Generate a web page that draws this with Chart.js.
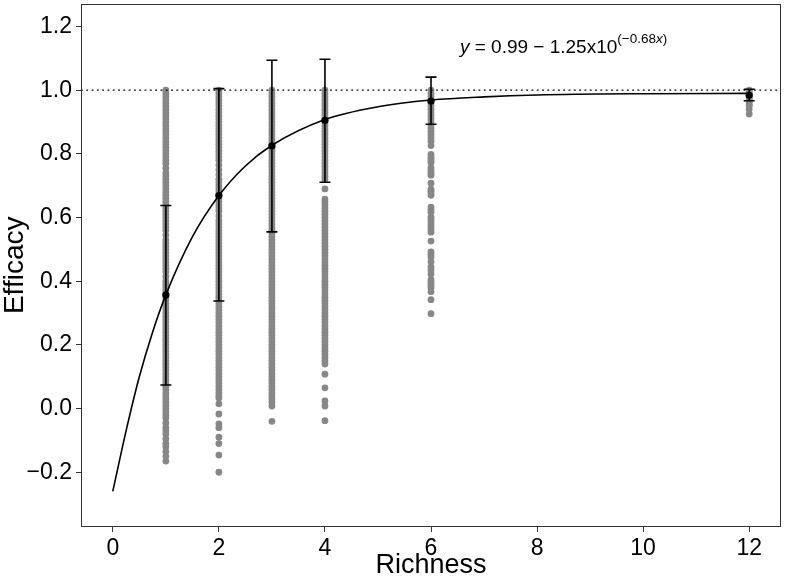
<!DOCTYPE html>
<html>
<head>
<meta charset="utf-8">
<script src="https://cdn.jsdelivr.net/npm/chart.js@4"></script>
<style>
html,body{margin:0;padding:0;background:#fff;}
#wrap{width:785px;height:579px;}
</style>
</head>
<body>
<div id="wrap"><canvas id="c" width="785" height="579"></canvas></div>
<script>
// ---- data ----
const richness = [1, 2, 3, 4, 6, 12];
const g1 = [1.00,0.99,0.98,0.97,0.96,0.95,0.94,0.93,0.92,0.91,0.90,0.89,0.88,0.87,0.86,0.85,0.84,0.83,0.82,0.81,0.80,0.79,0.78,0.77,0.755,0.74,0.73,0.72,0.71,0.70,0.69,0.68,0.67,0.66,0.65,0.64,0.63,0.62,0.61,0.60,0.59,0.58,0.57,0.56,0.545,0.53,0.52,0.51,0.50,0.49,0.48,0.47,0.46,0.45,0.44,0.43,0.415,0.40,0.39,0.38,0.37,0.36,0.35,0.34,0.33,0.32,0.31,0.30,0.29,0.28,0.27,0.26,0.25,0.24,0.23,0.22,0.21,0.20,0.19,0.18,0.17,0.16,0.15,0.14,0.13,0.12,0.11,0.10,0.09,0.08,0.07,0.06,0.05,0.04,0.03,0.02,0.01,0.00,-0.01,-0.02,-0.03,-0.045,-0.06,-0.07,-0.08,-0.095,-0.11,-0.12,-0.135,-0.15,-0.165];
const g2 = [1.00,0.99,0.98,0.97,0.96,0.95,0.94,0.93,0.92,0.91,0.90,0.89,0.88,0.87,0.86,0.85,0.84,0.83,0.82,0.81,0.80,0.79,0.78,0.765,0.75,0.735,0.72,0.71,0.70,0.69,0.68,0.67,0.66,0.65,0.64,0.63,0.62,0.605,0.59,0.58,0.57,0.56,0.55,0.54,0.53,0.52,0.51,0.50,0.49,0.48,0.47,0.46,0.45,0.44,0.43,0.42,0.41,0.40,0.39,0.38,0.37,0.36,0.35,0.34,0.33,0.32,0.31,0.30,0.29,0.28,0.27,0.26,0.25,0.24,0.23,0.22,0.21,0.20,0.19,0.18,0.17,0.16,0.15,0.14,0.13,0.12,0.11,0.10,0.09,0.08,0.07,0.06,0.05,0.04,0.033,0.015,-0.017,-0.048,-0.06,-0.09,-0.11,-0.146,-0.20];
const g3 = [1.00,0.99,0.98,0.97,0.96,0.95,0.94,0.93,0.92,0.91,0.90,0.89,0.88,0.87,0.86,0.85,0.84,0.83,0.82,0.81,0.80,0.79,0.78,0.77,0.76,0.75,0.74,0.73,0.72,0.71,0.70,0.69,0.68,0.67,0.66,0.65,0.64,0.63,0.62,0.61,0.60,0.59,0.58,0.57,0.56,0.55,0.54,0.53,0.52,0.51,0.50,0.49,0.48,0.47,0.46,0.45,0.44,0.43,0.42,0.41,0.40,0.39,0.38,0.37,0.36,0.35,0.34,0.33,0.32,0.31,0.30,0.29,0.28,0.27,0.26,0.25,0.24,0.23,0.22,0.21,0.20,0.19,0.18,0.17,0.16,0.15,0.14,0.13,0.12,0.11,0.10,0.09,0.08,0.07,0.06,0.05,0.04,0.03,0.02,0.008,-0.04];
const g4 = [1.00,0.99,0.98,0.97,0.96,0.95,0.94,0.93,0.92,0.91,0.90,0.89,0.88,0.87,0.86,0.85,0.84,0.83,0.82,0.81,0.80,0.79,0.78,0.77,0.76,0.75,0.74,0.73,0.72,0.69,0.658,0.65,0.64,0.63,0.62,0.61,0.60,0.59,0.58,0.57,0.56,0.55,0.54,0.53,0.52,0.51,0.50,0.49,0.48,0.47,0.46,0.45,0.44,0.43,0.42,0.41,0.40,0.39,0.38,0.37,0.36,0.35,0.34,0.33,0.32,0.31,0.30,0.29,0.28,0.27,0.26,0.25,0.24,0.23,0.22,0.21,0.20,0.19,0.18,0.17,0.16,0.15,0.14,0.108,0.065,0.024,0.008,-0.038];
const g6 = [1.00,0.99,0.98,0.97,0.96,0.95,0.94,0.93,0.92,0.91,0.90,0.89,0.88,0.87,0.86,0.85,0.84,0.826,0.798,0.79,0.785,0.778,0.773,0.757,0.75,0.745,0.738,0.733,0.708,0.689,0.684,0.679,0.67,0.633,0.625,0.617,0.601,0.594,0.586,0.578,0.570,0.562,0.554,0.526,0.492,0.484,0.476,0.461,0.445,0.434,0.423,0.405,0.398,0.392,0.385,0.379,0.367,0.342,0.298];
const g12 = [1.00,0.995,0.99,0.985,0.98,0.975,0.97,0.965,0.96,0.955,0.95,0.94,0.925];
const groups = [g1, g2, g3, g4, g6, g12];

const meanEff = [0.357, 0.669, 0.825, 0.905, 0.966, 0.984];
const errLow  = [0.074, 0.338, 0.555, 0.711, 0.893, 0.967];
const errHigh = [0.638, 1.005, 1.094, 1.097, 1.041, 1.003];

// fitted curve, values
const curveX = [0, 0.25, 0.5, 0.75, 1, 1.5, 2, 2.5, 3, 4, 5, 6, 7, 8, 10, 12];
const curveY = [-0.26, -0.07, 0.10, 0.24, 0.357, 0.539, 0.669, 0.762, 0.827, 0.908, 0.948, 0.969, 0.979, 0.985, 0.989, 0.990];

const refX = [-0.6, 12.6];
const refY = [1.0, 1.0];

const xTicks = [0, 2, 4, 6, 8, 10, 12];
const yTicks = [-0.2, 0.0, 0.2, 0.4, 0.6, 0.8, 1.0, 1.2];
const xRange = [-0.6, 12.6];
const yRange = [-0.372, 1.272];

const annX = 8.5, annY = 1.116;

// ---- build datasets ----
const grayPts = [];
groups.forEach((g, i) => g.forEach(v => grayPts.push({x: richness[i], y: v})));
const meanPts = richness.map((r, i) => ({x: r, y: meanEff[i]}));
const curvePts = curveX.map((x, i) => ({x: x, y: curveY[i]}));
const refPts = refX.map((x, i) => ({x: x, y: refY[i]}));

const FONT = "'Liberation Sans', Arial, Helvetica, sans-serif";

const errorBars = {
  id: 'errorBars',
  afterDatasetsDraw(chart) {
    const {ctx, scales: {x, y}} = chart;
    ctx.save();
    ctx.strokeStyle = '#000';
    ctx.lineWidth = 1.6;
    richness.forEach((r, i) => {
      const px = x.getPixelForValue(r);
      const y1 = y.getPixelForValue(errLow[i]);
      const y2 = y.getPixelForValue(errHigh[i]);
      ctx.beginPath();
      ctx.moveTo(px, y1); ctx.lineTo(px, y2);
      ctx.moveTo(px - 5.5, y1); ctx.lineTo(px + 5.5, y1);
      ctx.moveTo(px - 5.5, y2); ctx.lineTo(px + 5.5, y2);
      ctx.stroke();
    });
    ctx.restore();
  }
};

const frame = {
  id: 'frame',
  afterDraw(chart) {
    const {ctx, chartArea: a, scales: {x, y}} = chart;
    ctx.save();
    ctx.strokeStyle = '#333';
    ctx.lineWidth = 1;
    ctx.strokeRect(Math.round(a.left) + 0.5, Math.round(a.top) + 0.5, Math.round(a.right - a.left) - 1, Math.round(a.bottom - a.top) - 1);
    // annotation
    const cx = x.getPixelForValue(annX);
    const by = y.getPixelForValue(annY);
    const big = 19, small = 13.5;
    const segs = [
      {t: 'y', f: 'italic ' + big + 'px ' + FONT, dy: 0},
      {t: ' = 0.99 \u2212 1.25x10', f: big + 'px ' + FONT, dy: 0},
      {t: '(\u22120.68', f: small + 'px ' + FONT, dy: -10},
      {t: 'x', f: 'italic ' + small + 'px ' + FONT, dy: -10},
      {t: ')', f: small + 'px ' + FONT, dy: -10}
    ];
    let total = 0;
    segs.forEach(s => { ctx.font = s.f; s.w = ctx.measureText(s.t).width; total += s.w; });
    let px = cx - total / 2;
    ctx.fillStyle = '#000';
    ctx.textBaseline = 'alphabetic';
    ctx.textAlign = 'left';
    segs.forEach(s => { ctx.font = s.f; ctx.fillText(s.t, px, by + s.dy); px += s.w; });
    ctx.restore();
  }
};

new Chart(document.getElementById('c'), {
  type: 'scatter',
  data: {
    datasets: [
      {label: 'mean', data: meanPts, showLine: false, pointRadius: 3.6, pointBackgroundColor: '#000', pointBorderWidth: 0, pointHoverRadius: 3.6},
      {label: 'fit', data: curvePts, showLine: true, borderColor: '#000', borderWidth: 1.6, pointRadius: 0, pointHoverRadius: 0, cubicInterpolationMode: 'monotone', fill: false},
      {label: 'ref', data: refPts, showLine: true, borderColor: '#000', borderWidth: 1.3, borderDash: [1.8, 3.5], pointRadius: 0, pointHoverRadius: 0, fill: false},
      {label: 'obs', data: grayPts, showLine: false, pointRadius: 3.4, pointBackgroundColor: '#878787', pointBorderWidth: 0, pointHoverRadius: 3.4}
    ]
  },
  options: {
    responsive: false,
    animation: false,
    events: [],
    layout: {padding: {top: 1, right: 4, left: 0, bottom: 0}},
    plugins: {legend: {display: false}, tooltip: {enabled: false}},
    scales: {
      x: {
        type: 'linear', min: xRange[0], max: xRange[1],
        afterBuildTicks: s => { s.ticks = xTicks.map(v => ({value: v})); },
        afterFit: s => { s.height = 52; s.paddingLeft = 0; s.paddingRight = 0; },
        grid: {display: true, drawOnChartArea: false, drawTicks: true, tickLength: 5, color: '#333', lineWidth: 1},
        border: {display: false},
        ticks: {color: '#000', font: {family: FONT, size: 23}, padding: 3, maxRotation: 0, callback: v => String(v)},
        title: {display: true, text: 'Richness', color: '#000', font: {family: FONT, size: 27, lineHeight: 1.0}, padding: {top: 0, bottom: 0}}
      },
      y: {
        type: 'linear', min: yRange[0], max: yRange[1],
        afterBuildTicks: s => { s.ticks = yTicks.map(v => ({value: v})); },
        afterFit: s => { s.width = 81; s.paddingTop = 0; s.paddingBottom = 0; },
        grid: {display: true, drawOnChartArea: false, drawTicks: true, tickLength: 5, color: '#333', lineWidth: 1},
        border: {display: false},
        ticks: {color: '#000', font: {family: FONT, size: 23}, padding: 4, callback: v => { const s = Math.abs(v).toFixed(1); return v < -1e-9 ? '\u2212' + s : s; }},
        title: {display: true, text: 'Efficacy', color: '#000', font: {family: FONT, size: 28, lineHeight: 1.1}, padding: {top: 0, bottom: 0}}
      }
    }
  },
  plugins: [errorBars, frame]
});
</script>
</body>
</html>
